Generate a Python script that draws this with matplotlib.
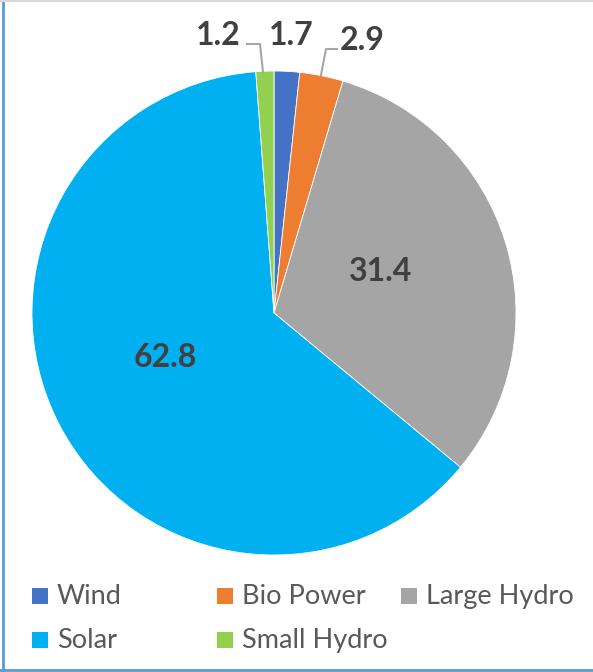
import matplotlib.pyplot as plt
from matplotlib.patches import Rectangle
from matplotlib.lines import Line2D

# energy mix shares (%)
sources = ["Wind", "Bio Power", "Large Hydro", "Solar", "Small Hydro"]
shares = [1.7, 2.9, 31.4, 62.8, 1.2]
colors = ["#4472C4", "#ED7D31", "#A5A5A5", "#00B0F0", "#92D050"]

W, H = 593, 672
fig = plt.figure(figsize=(W / 100, H / 100), dpi=100)
ax = fig.add_axes([0, 0, 1, 1])

cx, cy, r = 274, H - 313, 242
ax.pie(shares, colors=colors, startangle=90, counterclock=False,
       center=(cx, cy), radius=r, frame=True,
       wedgeprops=dict(linewidth=0.6, edgecolor="white"))
ax.set_xlim(0, W)
ax.set_ylim(0, H)
ax.set_aspect("equal")
ax.axis("off")

# data labels: centre x and baseline y, in pixels from top-left
label_pos = {"Wind": (291, 45), "Bio Power": (362, 50), "Large Hydro": (381, 281),
             "Solar": (165, 367), "Small Hydro": (218, 45)}
for name, val in zip(sources, shares):
    x, y = label_pos[name]
    ax.text(x, H - y, f"{val:.1f}", ha="center", va="baseline",
            fontsize=23, fontweight="bold", family="Lato", color="#404040")

# leader lines for the small outside labels
leaders = [[(247, 44), (260, 44), (263, 72)],
           [(337, 49), (326, 49), (321, 75)]]
for pts in leaders:
    xs = [p[0] for p in pts]
    ys = [H - p[1] for p in pts]
    ax.plot(xs, ys, color="#A6A6A6", lw=1.5)

# legend, three per row
for i, (name, c) in enumerate(zip(sources, colors)):
    row, col = divmod(i, 3)
    x0 = 32 + col * 184.5
    base = 604 + row * 44
    ax.add_patch(Rectangle((x0, H - base), 16, 16, color=c, lw=0))
    ax.text(x0 + 25, H - base, name, ha="left", va="baseline",
            fontsize=19.5, family="Lato", color="#595959")

# outer frame
ax.add_line(Line2D([3, 3], [0, H], color="#5B9BD5", lw=2))
ax.add_line(Line2D([0, W], [2, 2], color="#5B9BD5", lw=2))
ax.add_line(Line2D([0, W], [H - 0.5, H - 0.5], color="#D9D9D9", lw=1.5))

fig.savefig("out.png", dpi=100)
